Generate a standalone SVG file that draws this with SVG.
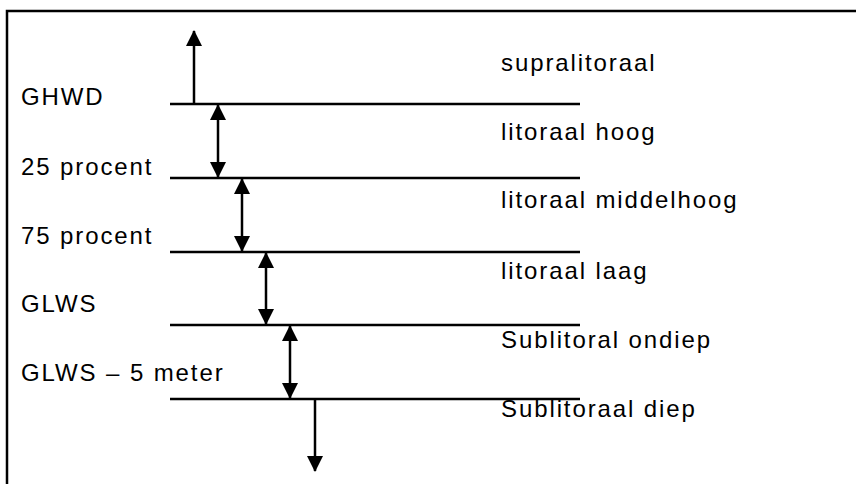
<svg xmlns="http://www.w3.org/2000/svg" width="856" height="484" viewBox="0 0 856 484">
<style>
text{font-family:"Liberation Sans",Arial,sans-serif;font-size:24px;fill:#000;letter-spacing:1.9px}
.lvl{stroke:#000;stroke-width:2.5}
.arr{stroke:#000;stroke-width:2.5;fill:none}
</style>
<defs>
<marker id="ah" viewBox="0 0 16 16" refX="15" refY="8" markerWidth="16" markerHeight="16" markerUnits="userSpaceOnUse" orient="auto-start-reverse">
<path d="M0,0 L16,8 L0,16 Z" fill="#000"/>
</marker>
</defs>
<rect x="0" y="0" width="856" height="484" fill="#fff"/>
<path d="M7,484 V11 H856" fill="none" stroke="#000" stroke-width="2.5"/>
<g id="levels">
<line class="lvl" x1="170" y1="104" x2="580" y2="104"/>
<line class="lvl" x1="170" y1="178" x2="580" y2="178"/>
<line class="lvl" x1="170" y1="252" x2="580" y2="252"/>
<line class="lvl" x1="170" y1="325" x2="580" y2="325"/>
<line class="lvl" x1="170" y1="399" x2="580" y2="399"/>
</g>
<g id="connectors">
<line class="arr" x1="194" y1="104" x2="194" y2="31" marker-end="url(#ah)"/>
<line class="arr" x1="218" y1="105" x2="218" y2="177" marker-start="url(#ah)" marker-end="url(#ah)"/>
<line class="arr" x1="242" y1="179" x2="242" y2="251" marker-start="url(#ah)" marker-end="url(#ah)"/>
<line class="arr" x1="266" y1="253" x2="266" y2="324" marker-start="url(#ah)" marker-end="url(#ah)"/>
<line class="arr" x1="290" y1="326" x2="290" y2="398" marker-start="url(#ah)" marker-end="url(#ah)"/>
<line class="arr" x1="315" y1="399" x2="315" y2="471" marker-end="url(#ah)"/>
</g>
<g id="left-labels">
<text x="21" y="105">GHWD</text>
<text x="21" y="175">25 procent</text>
<text x="21" y="244">75 procent</text>
<text x="21" y="312">GLWS</text>
<text x="21" y="381">GLWS – 5 meter</text>
</g>
<g id="zone-labels">
<text x="501" y="71">supralitoraal</text>
<text x="501" y="140">litoraal hoog</text>
<text x="501" y="208">litoraal middelhoog</text>
<text x="501" y="279">litoraal laag</text>
<text x="501" y="348">Sublitoral ondiep</text>
<text x="501" y="417">Sublitoraal diep</text>
</g>
</svg>
